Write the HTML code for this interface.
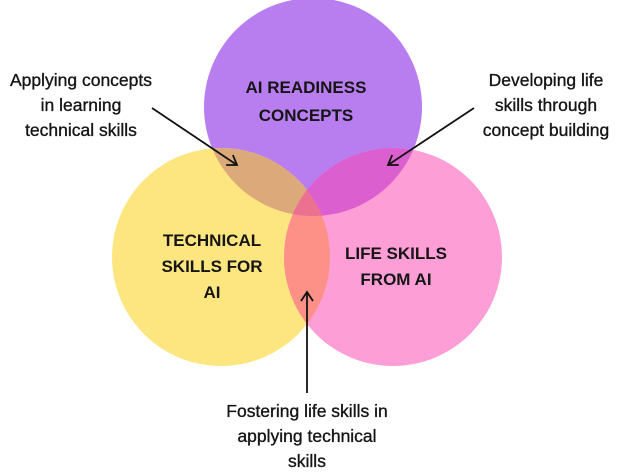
<!DOCTYPE html>
<html><head><meta charset="utf-8"><style>
html,body{margin:0;padding:0;background:#fff;width:623px;height:474px;overflow:hidden}
svg{display:block}
text{font-family:"Liberation Sans",sans-serif;fill:#151515}
.t{font-size:17.5px;stroke:#151515;stroke-width:0.35}
.b{font-size:17px;font-weight:bold}
</style></head><body>
<svg width="623" height="474" viewBox="0 0 623 474">
<defs>
<marker id="ah" markerWidth="14" markerHeight="14" refX="10" refY="7" orient="auto" markerUnits="userSpaceOnUse">
<path d="M1,1 L10,7 L1,13" fill="none" stroke="#111" stroke-width="1.8"/>
</marker>
<clipPath id="cp"><circle cx="313" cy="107" r="109"/></clipPath>
<clipPath id="cy"><circle cx="221" cy="257" r="109"/></clipPath>
<clipPath id="ck"><circle cx="393" cy="257" r="109"/></clipPath>
</defs>
<circle cx="313" cy="107" r="109" fill="#b87ef0"/>
<circle cx="221" cy="257" r="109" fill="#fde680"/>
<circle cx="393" cy="257" r="109" fill="#fd9fd6"/>
<g clip-path="url(#cp)"><circle cx="221" cy="257" r="109" fill="#dcaa7a"/><circle cx="393" cy="257" r="109" fill="#dc5fd0"/></g>
<g clip-path="url(#cy)"><circle cx="393" cy="257" r="109" fill="#fd9188"/></g>
<g clip-path="url(#cy)"><g clip-path="url(#ck)"><circle cx="313" cy="107" r="109" fill="#ec7090"/></g></g>
<text class="b" x="306" y="93" text-anchor="middle">AI READINESS</text>
<text class="b" x="306" y="121" text-anchor="middle">CONCEPTS</text>
<text class="b" x="212" y="246" text-anchor="middle">TECHNICAL</text>
<text class="b" x="212" y="272" text-anchor="middle">SKILLS FOR</text>
<text class="b" x="212" y="298" text-anchor="middle">AI</text>
<text class="b" x="396" y="259" text-anchor="middle">LIFE SKILLS</text>
<text class="b" x="396" y="285" text-anchor="middle">FROM AI</text>
<text class="t" x="81" y="86" text-anchor="middle">Applying concepts</text>
<text class="t" x="81" y="111" text-anchor="middle">in learning</text>
<text class="t" x="81" y="136" text-anchor="middle">technical skills</text>
<text class="t" x="546" y="86" text-anchor="middle">Developing life</text>
<text class="t" x="546" y="111" text-anchor="middle">skills through</text>
<text class="t" x="546" y="136" text-anchor="middle">concept building</text>
<text class="t" x="307" y="417" text-anchor="middle">Fostering life skills in</text>
<text class="t" x="307" y="442" text-anchor="middle">applying technical</text>
<text class="t" x="307" y="467" text-anchor="middle">skills</text>
<line x1="152" y1="108" x2="237" y2="165" stroke="#111" stroke-width="1.8" marker-end="url(#ah)"/>
<line x1="474" y1="108" x2="388" y2="165" stroke="#111" stroke-width="1.8" marker-end="url(#ah)"/>
<line x1="307" y1="393" x2="307" y2="292" stroke="#111" stroke-width="1.8" marker-end="url(#ah)"/>
</svg>
</body></html>
